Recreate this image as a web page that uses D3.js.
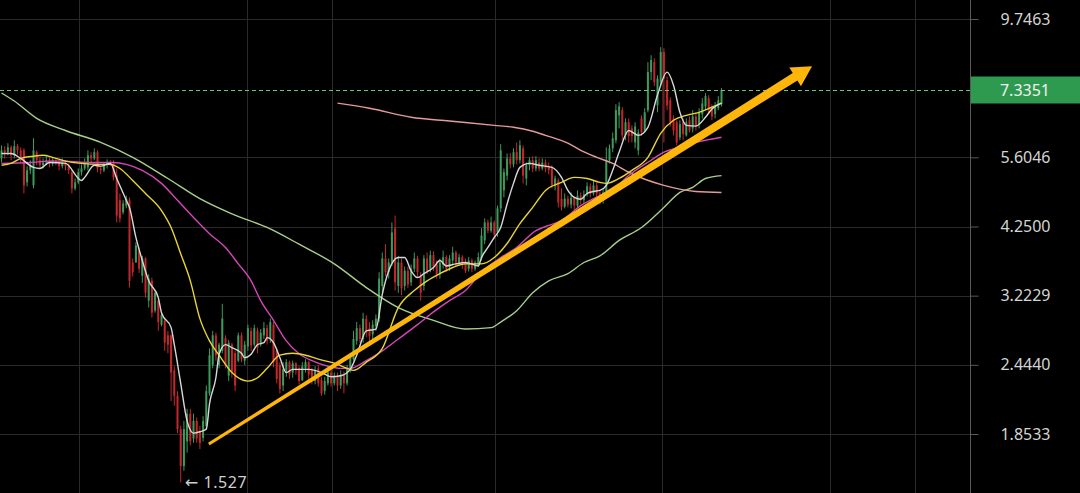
<!DOCTYPE html>
<html><head><meta charset="utf-8">
<script src="https://cdn.jsdelivr.net/npm/d3@7"></script>
<style>html,body{margin:0;padding:0;background:#000;overflow:hidden}svg{display:block}</style>
</head><body>
<svg id="chart" width="1080" height="493"></svg>
<script>
// ---- candle data (price) ----
const opens = [
5.58,5.764,5.72,5.834,5.65,5.86,5.764,5.764,5.07,5.32,
5.01,5.72,5.54,5.43,5.49,5.54,5.47,5.54,5.49,5.41,
5.49,5.41,5.28,4.95,5.07,5.28,5.36,5.384,5.65,5.58,
5.72,5.36,5.32,5.43,5.49,5.47,5.21,4.72,4.50,4.62,
4.72,3.68,3.68,3.86,3.49,3.74,3.16,3.42,3.035,3.16,
2.87,2.92,2.75,2.75,2.39,2.16,1.89,1.63,1.80,2.01,
1.82,1.953,1.87,1.825,1.915,2.18,2.444,2.75,2.444,2.585,
2.72,2.34,2.65,2.56,2.485,2.75,2.485,2.63,2.80,2.65,
2.80,2.65,2.75,2.83,2.71,2.87,2.585,2.444,2.25,2.39,
2.47,2.37,2.46,2.41,2.30,2.41,2.47,2.39,2.29,2.41,
2.30,2.20,2.27,2.37,2.27,2.34,2.25,2.35,2.27,2.39,
2.50,2.69,2.83,2.71,2.94,2.83,2.76,2.85,2.94,3.35,
3.74,3.54,3.68,4.22,3.35,3.68,3.35,3.56,3.40,3.59,
3.74,3.49,3.35,3.74,3.59,3.79,3.65,3.51,3.65,3.76,
3.62,3.71,3.83,3.68,3.76,3.68,3.59,3.71,3.59,3.65,
3.74,4.02,4.32,4.18,4.32,4.15,4.57,4.91,5.21,5.58,
5.45,5.72,5.54,5.81,5.15,5.43,5.54,5.36,5.49,5.36,
5.49,5.41,5.36,4.99,5.11,4.75,4.60,4.75,4.64,4.77,
4.62,4.81,4.72,4.83,4.99,4.85,5.01,4.85,4.72,4.81,
5.54,5.81,6.00,6.63,6.77,6.12,6.45,6.29,5.95,5.764,
6.55,6.24,6.77,7.88,8.20,6.90,7.57,8.54,7.63,7.04,
6.55,6.45,6.07,6.45,6.12,6.50,6.29,6.60,6.40,6.66,
6.87,7.10,6.82,6.66,6.82,6.93];
const highs = [
5.88,5.86,5.93,5.88,6.00,5.91,5.834,5.81,5.41,5.54,
6.05,5.764,5.605,5.58,5.63,5.605,5.605,5.58,5.56,5.58,
5.54,5.47,5.32,5.15,5.36,5.45,5.58,5.764,5.72,5.81,
5.764,5.41,5.49,5.56,5.54,5.54,5.36,4.85,4.72,4.81,
4.774,3.74,3.99,3.908,3.78,3.76,3.51,3.465,3.29,3.18,
3.01,2.94,2.80,2.76,2.43,2.20,1.915,1.953,2.05,2.05,
2.01,1.98,1.915,1.99,2.25,2.61,2.80,2.78,2.67,3.12,
2.75,2.70,2.67,2.585,2.78,2.78,2.69,2.87,2.836,2.87,
2.836,2.82,2.90,2.87,2.94,2.90,2.618,2.47,2.47,2.50,
2.485,2.485,2.47,2.43,2.47,2.50,2.485,2.416,2.43,2.444,
2.33,2.33,2.39,2.40,2.37,2.37,2.39,2.38,2.444,2.56,
2.80,2.90,2.87,3.01,2.98,2.90,2.92,2.99,3.54,3.83,
3.96,3.74,4.32,4.44,3.78,3.74,3.62,3.62,3.65,3.83,
3.78,3.54,3.79,3.83,3.86,3.85,3.71,3.74,3.86,3.79,
3.79,3.92,3.86,3.81,3.79,3.74,3.76,3.74,3.71,3.83,
4.22,4.39,4.37,4.42,4.35,4.62,5.91,5.36,5.69,5.70,
5.81,5.95,6.00,5.88,5.49,5.605,5.63,5.63,5.58,5.58,
5.56,5.49,5.43,5.21,5.15,4.95,4.85,4.81,4.87,4.79,
4.91,4.87,4.91,5.07,5.05,5.11,5.07,4.91,4.95,5.834,
5.90,6.19,6.93,6.99,6.848,6.55,6.55,6.37,6.45,6.27,
6.63,6.82,8.20,8.43,8.33,7.78,8.709,8.67,7.75,7.128,
6.63,6.50,6.50,6.55,6.55,6.60,6.77,6.71,6.82,7.10,
7.24,7.19,6.93,6.99,7.16,7.39];
const lows = [
5.49,5.58,5.65,5.54,5.58,5.67,5.49,4.85,4.99,5.24,
4.95,5.43,5.36,5.36,5.43,5.384,5.41,5.43,5.32,5.36,
5.32,5.24,4.85,4.91,5.03,5.21,5.32,5.32,5.49,5.54,
5.28,5.24,5.28,5.36,5.41,5.11,4.32,4.32,4.46,4.57,
3.329,3.48,3.68,3.53,3.39,3.198,3.073,2.952,3.01,2.80,
2.85,2.585,2.56,2.115,2.075,1.86,1.527,1.60,1.72,1.77,
1.79,1.79,1.745,1.80,1.89,2.16,2.41,2.485,2.41,2.56,
2.41,2.29,2.321,2.20,2.47,2.47,2.444,2.585,2.585,2.63,
2.56,2.63,2.71,2.65,2.67,2.42,2.27,2.18,2.20,2.33,
2.31,2.321,2.35,2.26,2.29,2.37,2.31,2.26,2.26,2.24,
2.16,2.17,2.25,2.24,2.25,2.20,2.22,2.18,2.25,2.37,
2.485,2.65,2.67,2.67,2.73,2.69,2.71,2.80,2.90,3.26,
3.48,3.45,3.63,3.29,3.26,3.23,3.29,3.32,3.35,3.54,
3.48,3.16,3.29,3.51,3.54,3.56,3.45,3.45,3.59,3.54,
3.56,3.66,3.63,3.63,3.59,3.53,3.55,3.54,3.56,3.62,
3.71,3.96,4.14,4.15,4.05,4.08,4.50,4.774,5.11,5.36,
5.384,5.45,5.47,5.05,5.01,5.32,5.28,5.30,5.30,5.32,
5.28,5.24,4.95,4.91,4.587,4.53,4.57,4.587,4.57,4.53,
4.587,4.64,4.66,4.79,4.774,4.81,4.76,4.64,4.66,4.76,
5.47,5.72,5.93,6.29,6.00,6.00,5.95,5.95,5.81,5.65,
6.10,6.19,6.71,7.63,7.45,6.71,7.45,5.95,6.77,6.34,
6.12,5.88,6.00,6.00,6.09,6.19,6.19,6.24,6.29,6.55,
6.77,6.66,6.50,6.55,6.77,6.87];
const closes = [
5.764,5.72,5.834,5.65,5.86,5.764,5.58,5.01,5.32,5.43,
5.764,5.54,5.43,5.49,5.54,5.47,5.54,5.49,5.41,5.49,
5.41,5.32,4.95,5.07,5.28,5.36,5.49,5.65,5.58,5.72,
5.36,5.32,5.43,5.49,5.47,5.173,4.44,4.39,4.66,4.75,
3.42,3.54,3.94,3.59,3.74,3.26,3.45,3.01,3.26,2.90,
2.98,2.67,2.65,2.37,2.16,1.89,1.63,1.89,2.01,1.80,
1.953,1.82,1.79,1.953,2.20,2.54,2.75,2.54,2.65,2.94,
2.444,2.67,2.37,2.25,2.75,2.50,2.65,2.83,2.64,2.83,
2.618,2.78,2.83,2.69,2.90,2.47,2.31,2.22,2.40,2.47,
2.35,2.46,2.39,2.29,2.43,2.47,2.35,2.29,2.39,2.27,
2.18,2.29,2.37,2.27,2.34,2.25,2.35,2.27,2.41,2.54,
2.71,2.83,2.71,2.94,2.78,2.74,2.87,2.94,3.45,3.74,
3.54,3.68,4.15,3.40,3.68,3.32,3.56,3.37,3.59,3.74,
3.54,3.26,3.74,3.56,3.79,3.62,3.51,3.68,3.76,3.59,
3.74,3.83,3.68,3.76,3.65,3.56,3.71,3.59,3.68,3.76,
4.10,4.32,4.18,4.32,4.12,4.57,5.764,5.28,5.58,5.45,
5.72,5.54,5.88,5.21,5.43,5.54,5.36,5.54,5.36,5.49,
5.36,5.32,5.01,5.15,4.68,4.60,4.75,4.64,4.77,4.62,
4.81,4.72,4.83,4.99,4.85,5.01,4.85,4.72,4.87,5.54,
5.81,6.05,6.77,6.87,6.12,6.45,6.10,6.10,6.34,6.19,
6.19,6.71,7.88,8.27,7.57,7.68,8.54,7.68,6.90,6.45,
6.24,5.95,6.40,6.15,6.45,6.24,6.60,6.34,6.71,6.95,
7.16,6.77,6.60,6.87,7.04,7.3351];

// ---- moving-average lines: [candle index, price] ----
const maWhite = [[0,5.69],[3,5.69],[6,5.58],[10,5.384],[12,5.36],[15,5.49],[20,5.47],[25,5.11],[26,5.173],[29,5.43],[31,5.41],[34,5.47],[36,5.15],[39,4.72],[40,4.587],[42,4.068],[44,3.71],[46,3.42],[49,3.198],[50,3.01],[53,2.836],[54,2.65],[56,2.27],[58,1.953],[60,1.86],[62,1.87],[64,1.89],[65,2.09],[67,2.321],[68,2.55],[70,2.65],[72,2.618],[75,2.56],[76,2.515],[78,2.55],[80,2.65],[82,2.67],[83,2.725],[85,2.67],[87,2.515],[89,2.37],[91,2.40],[93,2.40],[96,2.40],[100,2.37],[103,2.33],[106,2.34],[109,2.40],[111,2.54],[114,2.80],[117,2.82],[119,3.24],[121,3.56],[124,3.754],[126,3.754],[128,3.56],[130,3.465],[132,3.52],[135,3.607],[137,3.71],[139,3.63],[142,3.66],[145,3.68],[149,3.63],[150,3.754],[152,3.908],[154,4.068],[156,4.234],[158,4.65],[160,5.05],[162,5.384],[165,5.47],[168,5.43],[172,5.384],[175,5.173],[177,4.91],[179,4.774],[181,4.74],[183,4.85],[185,4.89],[187,4.91],[189,5.01],[191,5.32],[193,5.72],[196,6.24],[199,6.12],[202,6.32],[205,7.19],[208,7.88],[210,7.48],[212,6.71],[214,6.37],[217,6.35],[220,6.579],[222,6.80],[225,6.96]];
const maYellow = [[0,5.43],[3,5.47],[6,5.58],[10,5.63],[13,5.65],[16,5.605],[20,5.52],[25,5.47],[30,5.45],[34,5.45],[37,5.36],[41,5.11],[45,4.85],[50,4.53],[53,4.234],[56,3.81],[59,3.42],[62,2.94],[65,2.69],[68,2.54],[72,2.37],[77,2.29],[80,2.321],[83,2.41],[87,2.54],[91,2.56],[95,2.54],[99,2.50],[104,2.46],[108,2.41],[110,2.39],[114,2.47],[119,2.61],[124,3.073],[129,3.29],[133,3.42],[137,3.52],[141,3.607],[145,3.66],[150,3.66],[154,3.754],[158,3.97],[162,4.30],[166,4.587],[170,4.91],[175,5.07],[179,5.173],[183,5.15],[187,5.07],[189,5.05],[193,5.15],[197,5.32],[202,5.605],[206,6.17],[210,6.50],[214,6.63],[218,6.71],[222,6.848],[225,6.96]];
const maMagenta = [[0,5.47],[9,5.49],[15,5.52],[20,5.52],[26,5.49],[31,5.49],[35,5.49],[39,5.45],[44,5.32],[50,5.05],[55,4.72],[60,4.407],[65,4.13],[70,3.908],[74,3.66],[78,3.42],[81,3.16],[85,2.92],[89,2.69],[93,2.555],[97,2.485],[102,2.43],[106,2.41],[109,2.41],[114,2.485],[119,2.585],[124,2.71],[130,2.87],[135,3.02],[140,3.16],[145,3.29],[150,3.54],[156,3.754],[161,3.908],[167,4.18],[170,4.25],[175,4.35],[181,4.62],[187,4.81],[191,4.91],[196,5.21],[203,5.54],[207,5.72],[212,5.834],[216,5.93],[220,6.00],[225,6.072]];
const maGreen = [[0,7.25],[4,7.02],[11,6.55],[20,6.24],[31,5.95],[41,5.605],[52,5.15],[62,4.75],[72,4.47],[83,4.234],[93,3.96],[104,3.66],[114,3.329],[124,3.073],[135,2.92],[145,2.82],[153,2.836],[156,2.90],[161,3.035],[166,3.26],[171,3.42],[177,3.52],[182,3.68],[187,3.78],[193,4.02],[200,4.234],[207,4.587],[212,4.87],[216,4.97],[220,5.15],[225,5.21]];
const maPink = [[105,6.96],[115,6.82],[128,6.579],[140,6.48],[154,6.37],[160,6.32],[166,6.22],[170,6.12],[177,5.93],[181,5.764],[186,5.605],[191,5.47],[196,5.28],[207,5.01],[217,4.89],[225,4.87]];

// ---- axis / annotations ----
const tickValues = [9.7463, 5.6046, 4.25, 3.2229, 2.444, 1.8533];
const tickLabels = ["9.7463", "5.6046", "4.2500", "3.2229", "2.4440", "1.8533"];
const lastPrice = 7.3351, lastLabel = "7.3351";
const lowIndex = 56, lowPrice = 1.527, lowLabel = "\u2190 1.527";
const gridIndex = [24.2, 76.7, 103.3, 154.2, 206.4, 258.9, 285.5];
const arrowFrom = [64.8, 1.78], arrowTo = [253.3, 8.07];

// ---- drawing ----
const W = 1080, H = 493, axisX = 970;
const svg = d3.select("#chart");
svg.append("rect").attr("width", W).attr("height", H).attr("fill", "#000");

const x = d3.scaleLinear().domain([0, closes.length - 1]).range([1.5, 721.5]);
const y = d3.scaleLog().domain([1.8533, 9.7463]).range([434, 19]);

// grid
const grid = svg.append("g").attr("stroke", "#2a2a2a").attr("stroke-width", 1);
grid.selectAll("line.v").data(gridIndex).join("line").attr("class", "v")
  .attr("x1", d => Math.round(x(d)) + 0.5).attr("x2", d => Math.round(x(d)) + 0.5)
  .attr("y1", 0).attr("y2", H);
grid.selectAll("line.h").data(tickValues).join("line").attr("class", "h")
  .attr("x1", 0).attr("x2", axisX)
  .attr("y1", d => Math.round(y(d)) + 0.5).attr("y2", d => Math.round(y(d)) + 0.5);

// right axis
const axis = d3.axisRight(y).tickValues(tickValues).tickSize(8).tickFormat((d, i) => tickLabels[i]);
const ag = svg.append("g").attr("transform", `translate(${axisX + 0.5},0)`).call(axis);
ag.select(".domain").attr("stroke", "#5a5a5a").attr("d", `M0,0V${H}`);
ag.selectAll(".tick line").attr("stroke", "#5a5a5a");
ag.selectAll(".tick text").attr("fill", "#d4d4d4").attr("x", 55).attr("text-anchor", "middle")
  .style("font-family", "'Noto Sans', 'DejaVu Sans', sans-serif").style("font-size", "16px");

// candles
const candles = svg.append("g");
const idx = d3.range(closes.length);
const colorOf = i => closes[i] >= opens[i] ? "#3d9b5c" : "#c4272b";
candles.selectAll("line.wick").data(idx).join("line").attr("class", "wick")
  .attr("x1", i => x(i)).attr("x2", i => x(i))
  .attr("y1", i => y(highs[i])).attr("y2", i => y(lows[i]))
  .attr("stroke", colorOf).attr("stroke-width", 1);
candles.selectAll("rect.body").data(idx).join("rect").attr("class", "body")
  .attr("x", i => x(i) - 1).attr("width", 2)
  .attr("y", i => Math.min(y(opens[i]), y(closes[i])))
  .attr("height", i => Math.max(1, Math.abs(y(opens[i]) - y(closes[i]))))
  .attr("fill", colorOf);

// moving averages
const line = d3.line().x(d => x(d[0])).y(d => y(d[1])).curve(d3.curveMonotoneX);
const mas = [
  [maGreen, "#a9cf8c"],
  [maPink, "#e39a9a"],
  [maMagenta, "#d447b8"],
  [maYellow, "#e8d630"],
  [maWhite, "#d8d8d8"]
];
mas.forEach(([data, color]) => {
  svg.append("path").datum(data).attr("d", line).attr("fill", "none")
    .attr("stroke", color).attr("stroke-width", 1.4);
});

// last price line
const ly = Math.round(y(lastPrice)) + 0.5;
svg.append("line").attr("x1", 0).attr("x2", axisX + 8).attr("y1", ly).attr("y2", ly)
  .attr("stroke", "#6cc47d").attr("stroke-width", 1).attr("stroke-dasharray", "4,3");
svg.append("rect").attr("x", axisX + 1).attr("y", ly - 14).attr("width", W - axisX).attr("height", 27)
  .attr("fill", "#2d9a50");
svg.append("text").attr("x", axisX + 55).attr("y", ly).attr("dy", "0.35em")
  .attr("text-anchor", "middle").attr("fill", "#f2f2f2")
  .style("font-family", "'Noto Sans', 'DejaVu Sans', sans-serif").style("font-size", "16px")
  .text(lastLabel);

// trend arrow (tapered)
const p0 = [x(arrowFrom[0]), y(arrowFrom[1])], p1 = [x(arrowTo[0]), y(arrowTo[1])];
const dx = p1[0] - p0[0], dy = p1[1] - p0[1], len = Math.hypot(dx, dy);
const ux = dx / len, uy = dy / len, nx = -uy, ny = ux;
const headLen = 20, headHalf = 11, w0 = 1.5, w1 = 4.4;
const b = [p1[0] - ux * headLen, p1[1] - uy * headLen];
const pts = [
  [p0[0] + nx * w0, p0[1] + ny * w0],
  [b[0] + nx * w1, b[1] + ny * w1],
  [b[0] + nx * headHalf, b[1] + ny * headHalf],
  p1,
  [b[0] - nx * headHalf, b[1] - ny * headHalf],
  [b[0] - nx * w1, b[1] - ny * w1],
  [p0[0] - nx * w0, p0[1] - ny * w0]
];
svg.append("polygon").attr("points", pts.map(p => p.join(",")).join(" "))
  .attr("fill", "#ffb60a");

// low marker
svg.append("text").attr("x", x(lowIndex) + 4).attr("y", y(lowPrice) + 6)
  .attr("fill", "#cfcfcf").style("font-family", "'Noto Sans', 'DejaVu Sans', sans-serif")
  .style("font-size", "16px").style("letter-spacing", "0.6px").text(lowLabel);
</script>
</body></html>
